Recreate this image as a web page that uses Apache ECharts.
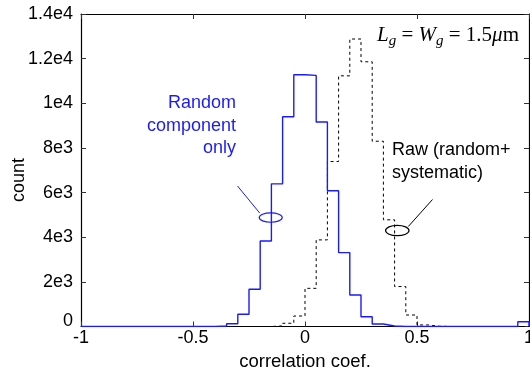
<!DOCTYPE html>
<html>
<head>
<meta charset="utf-8">
<script src="https://cdn.jsdelivr.net/npm/echarts@6/dist/echarts.min.js"></script>
<style>
  html, body { margin: 0; padding: 0; background: #fff; }
  #chart { width: 530px; height: 370px; }
</style>
</head>
<body>
<div id="chart"></div>
<script>
// Histogram bin edges (correlation coefficient), 0.05 wide
const binEdges = [
  -1.00, -0.95, -0.90, -0.85, -0.80, -0.75, -0.70, -0.65, -0.60, -0.55,
  -0.50, -0.45, -0.40, -0.35, -0.30, -0.25, -0.20, -0.15, -0.10, -0.05,
   0.00,  0.05,  0.10,  0.15,  0.20,  0.25,  0.30,  0.35,  0.40,  0.45,
   0.50,  0.55,  0.60,  0.65,  0.70,  0.75,  0.80,  0.85,  0.90,  0.95,
   1.00
];

// Counts per bin: random component only
const randomCounts = [
  0, 0, 0, 0, 0, 0, 0, 0, 0, 0,
  0, 0, 25, 120, 550, 1670, 3830, 6390, 9400, 11280,
  11250, 9160, 6080, 3310, 1410, 440, 110, 25, 0, 0,
  0, 0, 0, 0, 0, 0, 0, 0, 0, 215
];

// Counts per bin: raw (random + systematic)
const rawCounts = [
  0, 0, 0, 0, 0, 0, 0, 0, 0, 0,
  0, 0, 0, 0, 0, 0, 0, 25, 145, 470,
  1710, 3880, 7390, 11230, 12880, 11860, 8300, 4780, 1790, 515,
  70, 10, 0, 0, 0, 0, 0, 0, 0, 0
];

const xTickLabels = { '-1': '-1', '-0.5': '-0.5', '0': '0', '0.5': '0.5', '1': '1' };
const yTickLabels = ['0', '2e3', '4e3', '6e3', '8e3', '1e4', '1.2e4', '1.4e4'];

// Points of a step outline: each bin's left edge with its count, closed at the last edge
function stepPoints(counts) {
  const pts = counts.map((c, i) => [binEdges[i], c]);
  pts.push([binEdges[binEdges.length - 1], 0]);
  return pts;
}

const FONT = '"Liberation Sans", Arial, Helvetica, sans-serif';
const SERIF = '"Liberation Serif", "Times New Roman", serif';

const tickStyle = { inside: true, length: 5, lineStyle: { color: '#333', width: 1 } };
const axisLine = { show: true, onZero: false, lineStyle: { color: '#000', width: 1.2 } };

const chart = echarts.init(document.getElementById('chart'), null, { renderer: 'canvas', width: 530, height: 370 });

const option = {
  animation: false,
  backgroundColor: '#fff',
  grid: { left: 81, right: 1, top: 14, bottom: 43.5, containLabel: false, outerBoundsMode: 'none' },
  xAxis: [
    {
      type: 'value', min: -1, max: 1, interval: 0.5, position: 'bottom',
      axisLine: axisLine, axisTick: tickStyle, splitLine: { show: false },
      axisLabel: {
        color: '#000', fontFamily: FONT, fontSize: 18, margin: 3,
        formatter: v => xTickLabels[String(v)] ?? String(v)
      },
      name: 'correlation coef.', nameLocation: 'middle', nameGap: 20,
      nameTextStyle: { color: '#000', fontFamily: FONT, fontSize: 18.5 }
    },
    {
      type: 'value', min: -1, max: 1, interval: 0.5, position: 'top',
      axisLine: axisLine, axisTick: tickStyle, splitLine: { show: false },
      axisLabel: { show: false }
    }
  ],
  yAxis: [
    {
      type: 'value', min: 0, max: 14000, interval: 2000, position: 'left',
      axisLine: axisLine, axisTick: tickStyle, splitLine: { show: false },
      axisLabel: {
        color: '#000', fontFamily: FONT, fontSize: 18, margin: 8,
        // the zero label is lifted a little so it clears the x labels
        formatter: v => {
          const k = Math.round(v / 2000);
          return k === 0 ? '{z|' + yTickLabels[0] + '}' : yTickLabels[k];
        },
        rich: { z: { fontFamily: FONT, fontSize: 18, color: '#000', padding: [0, 0, 10, 0] } }
      }
    },
    {
      type: 'value', min: 0, max: 14000, interval: 2000, position: 'right',
      axisLine: axisLine, axisTick: tickStyle, splitLine: { show: false },
      axisLabel: { show: false }
    }
  ],
  series: [
    {
      name: 'Raw (random+systematic)', type: 'line', step: 'end',
      xAxisIndex: 0, yAxisIndex: 0, showSymbol: false, symbol: 'none',
      lineStyle: { color: '#000', width: 1, type: [3, 3] },
      data: stepPoints(rawCounts), z: 3
    },
    {
      name: 'Random component only', type: 'line', step: 'end',
      xAxisIndex: 0, yAxisIndex: 0, showSymbol: false, symbol: 'none',
      lineStyle: { color: '#1a1aff', width: 1.4 },
      data: stepPoints(randomCounts), z: 4
    }
  ]
};

chart.setOption(option);

// Annotation ellipses sit on the histogram outlines, placed in data coordinates
const blueMark = chart.convertToPixel({ gridIndex: 0 }, [-0.153, 4880]);
const blackMark = chart.convertToPixel({ gridIndex: 0 }, [0.412, 4300]);

chart.setOption({
  graphic: [
    {
      type: 'text', x: 19, y: 180, rotation: Math.PI / 2,
      style: { text: 'count', font: '18px ' + FONT, fill: '#000', align: 'center', verticalAlign: 'middle' }
    },
    {
      type: 'text', x: 236, y: 126,
      style: {
        text: 'Random\ncomponent\nonly', font: '18px ' + FONT, fill: '#1a1aff',
        align: 'right', verticalAlign: 'middle', lineHeight: 22.5
      }
    },
    {
      type: 'line',
      shape: { x1: 237.5, y1: 186, x2: blueMark[0] - 11, y2: blueMark[1] - 4.5 },
      style: { stroke: '#1a1aff', lineWidth: 1 }
    },
    {
      type: 'ellipse',
      shape: { cx: blueMark[0], cy: blueMark[1], rx: 11.5, ry: 4.7 },
      style: { stroke: '#1a1aff', fill: null, lineWidth: 1.2 }, z: 10
    },
    {
      type: 'text', x: 392, y: 161.5,
      style: {
        text: 'Raw (random+\nsystematic)', font: '18px ' + FONT, fill: '#000',
        align: 'left', verticalAlign: 'middle', lineHeight: 23.5
      }
    },
    {
      type: 'line',
      shape: { x1: 432.5, y1: 199.5, x2: blackMark[0] + 11, y2: blackMark[1] - 4 },
      style: { stroke: '#000', lineWidth: 1 }
    },
    {
      type: 'ellipse',
      shape: { cx: blackMark[0], cy: blackMark[1], rx: 11.7, ry: 5.2 },
      style: { stroke: '#000', fill: null, lineWidth: 1.2 }, z: 10
    },
    {
      type: 'text', x: 377, y: 35,
      style: {
        text: '{i|L}{s|g}{r| = }{i|W}{s|g}{r| = 1.5}{i|μ}{r|m}',
        align: 'left', verticalAlign: 'middle',
        rich: {
          i: { fontFamily: SERIF, fontStyle: 'italic', fontSize: 21, lineHeight: 27, verticalAlign: 'middle', fill: '#000' },
          r: { fontFamily: SERIF, fontSize: 21, lineHeight: 27, verticalAlign: 'middle', fill: '#000' },
          s: { fontFamily: SERIF, fontStyle: 'italic', fontSize: 15, lineHeight: 15, verticalAlign: 'bottom', fill: '#000' }
        }
      }
    }
  ]
});
</script>
</body>
</html>
